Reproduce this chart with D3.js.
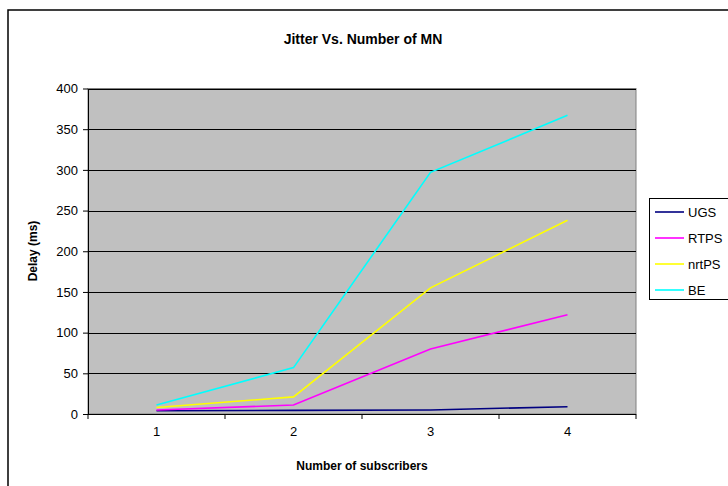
<!DOCTYPE html>
<html><head><meta charset="utf-8">
<script src="https://cdn.jsdelivr.net/npm/d3@7"></script>
<style>body{margin:0;background:#fff}svg{display:block;font-family:Arial,"Liberation Sans",sans-serif}</style>
</head><body><svg id="c" width="728" height="486"></svg>
<script>
const categories = ["1", "2", "3", "4"];
const seriesNames = ["UGS", "RTPS", "nrtPS", "BE"];
const UGS = [4, 4.5, 5, 9];
const RTPS = [5, 11, 80, 122];
const nrtPS = [8, 21, 155, 238];
const BE = [11, 57, 297, 367];
const yTicks = [0, 50, 100, 150, 200, 250, 300, 350, 400];
const colors = ["#000080", "#ff00ff", "#ffff00", "#00ffff"];

const svg = d3.select("#c");
const m = {l: 88, t: 88.5, r: 636, b: 414};

svg.append("rect").attr("x", 8).attr("y", 10).attr("width", 740).attr("height", 500)
  .attr("fill", "#fff").attr("stroke", "#000").attr("stroke-width", 1.5);

svg.append("text").attr("x", 363).attr("y", 44).attr("text-anchor", "middle")
  .attr("font-size", 14).attr("font-weight", "bold").text("Jitter Vs. Number of MN");

const x = d3.scaleBand().domain(categories).range([m.l, m.r]);
const y = d3.scaleLinear().domain([0, 400]).range([m.b, m.t]);

svg.append("rect").attr("x", m.l).attr("y", m.t).attr("width", m.r - m.l).attr("height", m.b - m.t)
  .attr("fill", "#c0c0c0").attr("stroke", "#808080").attr("stroke-width", 1);

svg.append("g").selectAll("line").data(yTicks.filter(d => d > 0)).join("line")
  .attr("x1", m.l).attr("x2", m.r).attr("y1", d => Math.round(y(d)) + 0.5).attr("y2", d => Math.round(y(d)) + 0.5)
  .attr("stroke", "#000").attr("stroke-width", 1);

const yAxis = svg.append("g").attr("transform", `translate(${m.l},0)`)
  .call(d3.axisLeft(y).tickValues(yTicks).tickSize(5).tickPadding(5).tickSizeOuter(0));
yAxis.selectAll("text").attr("font-size", 13).attr("fill", "#000").attr("font-family", "Arial, Liberation Sans, sans-serif");
yAxis.selectAll("line,path").attr("stroke", "#000");

const xAxis = svg.append("g").attr("transform", `translate(0,${m.b})`)
  .call(d3.axisBottom(x).tickSize(0).tickPadding(13));
xAxis.select("path").remove();
xAxis.selectAll("text").attr("font-size", 13).attr("fill", "#000").attr("font-family", "Arial, Liberation Sans, sans-serif");
const bounds = categories.map(c => x(c)).concat([x(categories[categories.length - 1]) + x.bandwidth()]);
svg.append("line").attr("x1", m.l - 5).attr("x2", m.r).attr("y1", m.b + 0.5).attr("y2", m.b + 0.5).attr("stroke", "#000");
svg.append("g").selectAll("line").data(bounds).join("line")
  .attr("x1", d => d).attr("x2", d => d).attr("y1", m.b).attr("y2", m.b + 5).attr("stroke", "#000");

const data = [UGS, RTPS, nrtPS, BE];
const line = d3.line().x((d, i) => x(categories[i]) + x.bandwidth() / 2).y(d => y(d));
svg.append("g").selectAll("path").data(data).join("path")
  .attr("d", d => line(d)).attr("fill", "none").attr("stroke", (d, i) => colors[i]).attr("stroke-width", 1.6);

svg.append("text").attr("transform", "translate(37,251) rotate(-90)").attr("text-anchor", "middle")
  .attr("font-size", 12).attr("font-weight", "bold").text("Delay (ms)");
svg.append("text").attr("x", 362).attr("y", 470).attr("text-anchor", "middle")
  .attr("font-size", 12).attr("font-weight", "bold").text("Number of subscribers");

const lg = svg.append("g");
lg.append("rect").attr("x", 649.5).attr("y", 198.5).attr("width", 100).attr("height", 101)
  .attr("fill", "#fff").attr("stroke", "#000");
const ly = d3.scalePoint().domain(seriesNames).range([212, 290]);
seriesNames.forEach((s, i) => {
  lg.append("line").attr("x1", 655).attr("x2", 684).attr("y1", ly(s)).attr("y2", ly(s))
    .attr("stroke", colors[i]).attr("stroke-width", 1.6);
  lg.append("text").attr("x", 688).attr("y", ly(s) + 5).attr("font-size", 13).text(s);
});
</script></body></html>
